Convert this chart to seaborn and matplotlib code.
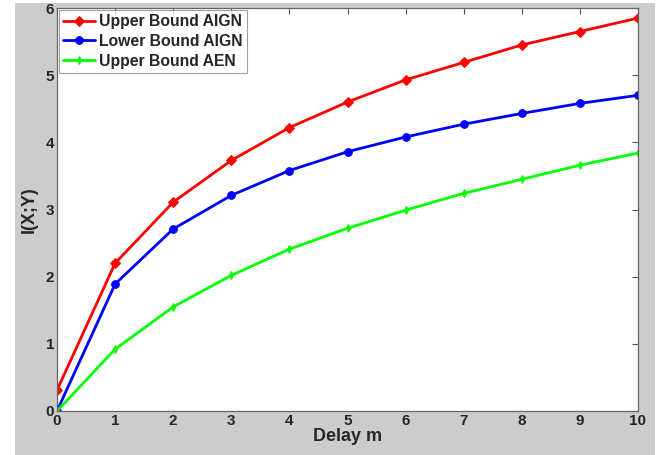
import matplotlib
matplotlib.use("Agg")
import matplotlib.pyplot as plt
from matplotlib.patches import Rectangle
import seaborn as sns
import pandas as pd

delay = [0, 1, 2, 3, 4, 5, 6, 7, 8, 9, 10]
upper_aign = [0.31, 2.20, 3.11, 3.73, 4.22, 4.60, 4.93, 5.19, 5.45, 5.65, 5.85]
lower_aign = [0.0, 1.89, 2.71, 3.21, 3.58, 3.86, 4.08, 4.27, 4.43, 4.58, 4.70]
upper_aen = [0.0, 0.92, 1.55, 2.02, 2.41, 2.72, 2.99, 3.24, 3.45, 3.66, 3.84]
series_names = ["Upper Bound AIGN", "Lower Bound AIGN", "Upper Bound AEN"]
x_ticks = [0, 1, 2, 3, 4, 5, 6, 7, 8, 9, 10]
y_ticks = [0, 1, 2, 3, 4, 5, 6]

sns.set_style("white")
plt.rcParams["font.family"] = ["Liberation Sans", "DejaVu Sans"]
plt.rcParams["font.weight"] = "bold"

fig = plt.figure(figsize=(6.72, 4.55), dpi=100, facecolor="white")
fig.add_artist(Rectangle((15 / 672, 0.0), 640 / 672, 452 / 455, transform=fig.transFigure,
                         facecolor="#cccccc", edgecolor="none", zorder=-10))
ax = fig.add_axes([57 / 672, 44 / 455, 581 / 672, 403 / 455])
ax.set_facecolor("white")

styles = [("#ff0000", "D", 5), ("#0000ff", "o", 5.5), ("#00ff00", "d", 4)]
for name, vals, (c, m, ms) in zip(series_names, [upper_aign, lower_aign, upper_aen], styles):
    df = pd.DataFrame({"x": delay, "y": vals})
    sns.lineplot(data=df, x="x", y="y", ax=ax, color=c, marker=m, markersize=ms,
                 markeredgecolor=c, linewidth=2, label=name)

ax.set_xlim(0, 10)
ax.set_ylim(0, 6)
ax.set_xticks(x_ticks)
ax.set_yticks(y_ticks)
ax.tick_params(direction="in", length=4, width=0.8, color="#555555", top=True, right=True,
               labelsize=11, pad=2)
for lab in ax.get_xticklabels() + ax.get_yticklabels():
    lab.set_fontweight("bold")
for s in ax.spines.values():
    s.set_visible(True)
    s.set_color("#666666")
    s.set_linewidth(0.9)
ax.set_xlabel("Delay m", fontsize=13, fontweight="bold", labelpad=0)
ax.set_ylabel("I(X;Y)", fontsize=13, fontweight="bold", labelpad=6)

leg = ax.legend(loc="upper left", frameon=True, fancybox=False, fontsize=11.3,
                borderaxespad=0.1, handlelength=2.0, handletextpad=0.25,
                labelspacing=0.3, borderpad=0.3)
leg.get_frame().set_edgecolor("#888888")
leg.get_frame().set_linewidth(0.8)
for t in leg.get_texts():
    t.set_fontweight("bold")

fig.savefig("out.png", dpi=100, facecolor=fig.get_facecolor())
